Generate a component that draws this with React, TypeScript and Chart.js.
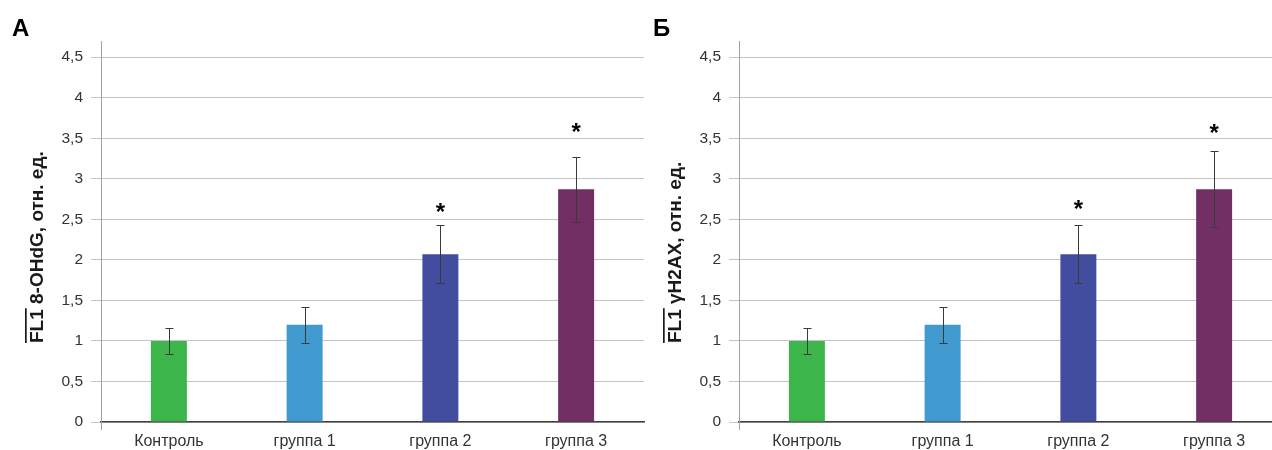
import React, { useEffect, useRef } from 'react';
import { Chart, registerables } from 'chart.js';

Chart.register(...registerables);

const categories = ['Контроль', 'группа 1', 'группа 2', 'группа 3'];
const barColors = ['#3cb54a', '#4099cf', '#434da0', '#722f64'];

const valuesA = [1.0, 1.2, 2.07, 2.87];
const errorsA = [0.165, 0.22, 0.36, 0.40];
const starsA = [null, null, 2.65, 3.64];

const valuesB = [1.0, 1.2, 2.07, 2.87];
const errorsB = [0.165, 0.22, 0.36, 0.47];
const starsB = [null, null, 2.69, 3.63];

const yTickLabels = ['0', '0,5', '1', '1,5', '2', '2,5', '3', '3,5', '4', '4,5'];

const FONT = '"Liberation Sans", Arial, sans-serif';

type PanelProps = {
  left: number;
  letter: string;
  title: string;
  values: number[];
  errors: number[];
  stars: (number | null)[];
};

function Panel({ left, letter, title, values, errors, stars }: PanelProps) {
  const ref = useRef<HTMLCanvasElement | null>(null);

  useEffect(() => {
    if (!ref.current) return;
    const overlay = {
      id: 'overlay',
      afterDatasetsDraw(chart: any) {
        const ctx = chart.ctx;
        const y = chart.scales.y;
        const meta = chart.getDatasetMeta(0);
        ctx.save();
        // error bars
        ctx.strokeStyle = '#3a3a3a';
        ctx.lineWidth = 1;
        values.forEach((v, i) => {
          const bar = meta.data[i];
          const x = Math.round(bar.x) + 0.5;
          const yt = Math.round(y.getPixelForValue(v + errors[i])) + 0.5;
          const yb = Math.round(y.getPixelForValue(v - errors[i])) + 0.5;
          ctx.beginPath();
          ctx.moveTo(x, yt);
          ctx.lineTo(x, yb);
          ctx.moveTo(x - 4, yt);
          ctx.lineTo(x + 4, yt);
          ctx.moveTo(x - 4, yb);
          ctx.lineTo(x + 4, yb);
          ctx.stroke();
        });
        // asterisks
        ctx.fillStyle = '#000';
        ctx.font = 'bold 24px ' + FONT;
        ctx.textAlign = 'center';
        ctx.textBaseline = 'alphabetic';
        stars.forEach((s, i) => {
          if (s == null) return;
          const bar = meta.data[i];
          ctx.fillText('*', bar.x, y.getPixelForValue(s) + 13);
        });
        ctx.restore();
      },
      afterDraw(chart: any) {
        const ctx = chart.ctx;
        const area = chart.chartArea;
        ctx.save();
        // axis extension below zero
        ctx.strokeStyle = '#a0a0a0';
        ctx.lineWidth = 1;
        ctx.beginPath();
        ctx.moveTo(Math.round(area.left) + 0.5, area.bottom);
        ctx.lineTo(Math.round(area.left) + 0.5, area.bottom + 8);
        ctx.stroke();
        // panel letter
        ctx.fillStyle = '#000';
        ctx.font = 'bold 24px ' + FONT;
        ctx.textAlign = 'left';
        ctx.textBaseline = 'alphabetic';
        ctx.fillText(letter, left === 0 ? 12 : 15, 36);
        // axis title with overline over FL1
        ctx.font = 'bold 19px ' + FONT;
        ctx.fillStyle = '#1a1a1a';
        ctx.translate(43, 343);
        ctx.rotate(-Math.PI / 2);
        ctx.fillText(title, 0, 0);
        const w = ctx.measureText('FL1').width;
        ctx.fillRect(0, -18, w + 1, 1.7);
        ctx.restore();
      },
    };

    const chart = new Chart(ref.current, {
      type: 'bar',
      data: {
        labels: categories,
        datasets: [
          {
            data: values,
            backgroundColor: barColors,
            borderWidth: 0,
            barPercentage: 0.265,
            categoryPercentage: 1,
          },
        ],
      },
      options: {
        responsive: false,
        animation: false,
        devicePixelRatio: 1,
        layout: { padding: { left: 0, top: 41, right: 2, bottom: 0 } },
        plugins: {
          legend: { display: false },
          tooltip: { enabled: false },
          title: { display: false },
        },
        scales: {
          x: {
            grid: { display: false, drawTicks: false },
            border: { color: '#404040', width: 1.5 },
            ticks: {
              padding: 10,
              color: '#333333',
              font: { family: FONT, size: 16 },
              maxRotation: 0,
            },
            afterFit(scale: any) {
              scale.height = 28;
            },
          },
          y: {
            min: 0,
            max: 4.7,
            grid: { color: '#c4c4c4', tickLength: 10, lineWidth: 1 },
            border: { color: '#a0a0a0', width: 1 },
            ticks: {
              stepSize: 0.5,
              includeBounds: false,
              padding: 8,
              color: '#333333',
              font: { family: FONT, size: 15.5 },
              callback: (_v: any, i: number) => yTickLabels[i],
            },
            afterFit(scale: any) {
              scale.width = 101;
            },
          },
        },
      },
      plugins: [overlay],
    } as any);
    return () => chart.destroy();
  }, []);

  return (
    <canvas
      ref={ref}
      width={646}
      height={450}
      style={{ position: 'absolute', left, top: 0, width: 646, height: 450 }}
    />
  );
}

export default function App() {
  return (
    <div
      style={{
        position: 'fixed',
        left: 0,
        top: 0,
        width: 1272,
        height: 450,
        overflow: 'hidden',
        background: '#fff',
      }}
    >
      <Panel left={0} letter="А" title="FL1 8-OHdG, отн. ед." values={valuesA} errors={errorsA} stars={starsA} />
      <Panel left={638} letter="Б" title="FL1 γH2AX, отн. ед." values={valuesB} errors={errorsB} stars={starsB} />
    </div>
  );
}
